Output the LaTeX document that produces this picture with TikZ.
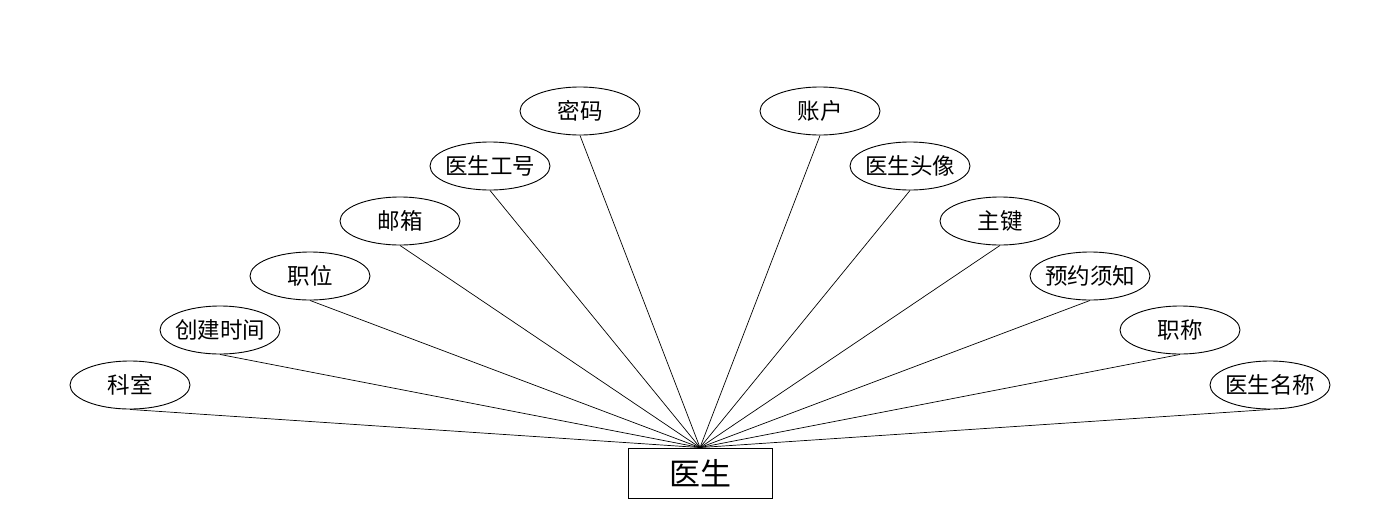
\documentclass[tikz,border=0pt]{standalone}
\usepackage{fontspec}
\setmainfont{Noto Sans CJK SC}
\usetikzlibrary{shapes.geometric}
\newcommand{\fixlbl}[1]{\makebox[0pt]{#1}}
\begin{document}
\begin{tikzpicture}[x=1pt,y=-1pt,
  attr/.style={ellipse,draw,line width=0.9pt,minimum width=120pt,minimum height=48pt,inner sep=0pt,font=\fontsize{22.5}{26}\selectfont},
  ent/.style={rectangle,draw,line width=0.9pt,minimum width=144pt,minimum height=50pt,inner sep=0pt,font=\fontsize{31}{35}\selectfont},
  conn/.style={line width=0.7pt}]
\useasboundingbox (0,0) rectangle (1400,528);
\node[ent] (e) at (700,473) {医生};
\node[attr] (a1) at (130,385) {\fixlbl{科室}};
\node[attr] (a2) at (220,330) {\fixlbl{创建时间}};
\node[attr] (a3) at (310,276) {\fixlbl{职位}};
\node[attr] (a4) at (400,221) {\fixlbl{邮箱}};
\node[attr] (a5) at (490,166) {\fixlbl{医生工号}};
\node[attr] (a6) at (580,111) {\fixlbl{密码}};
\node[attr] (a7) at (820,111) {\fixlbl{账户}};
\node[attr] (a8) at (910,166) {\fixlbl{医生头像}};
\node[attr] (a9) at (1000,221) {\fixlbl{主键}};
\node[attr] (a10) at (1090,276) {\fixlbl{预约须知}};
\node[attr] (a11) at (1180,330) {\fixlbl{职称}};
\node[attr] (a12) at (1270,385) {\fixlbl{医生名称}};
\foreach \i in {1,...,12} \draw[conn] (a\i.south) -- (e.north);
\end{tikzpicture}
\end{document}
